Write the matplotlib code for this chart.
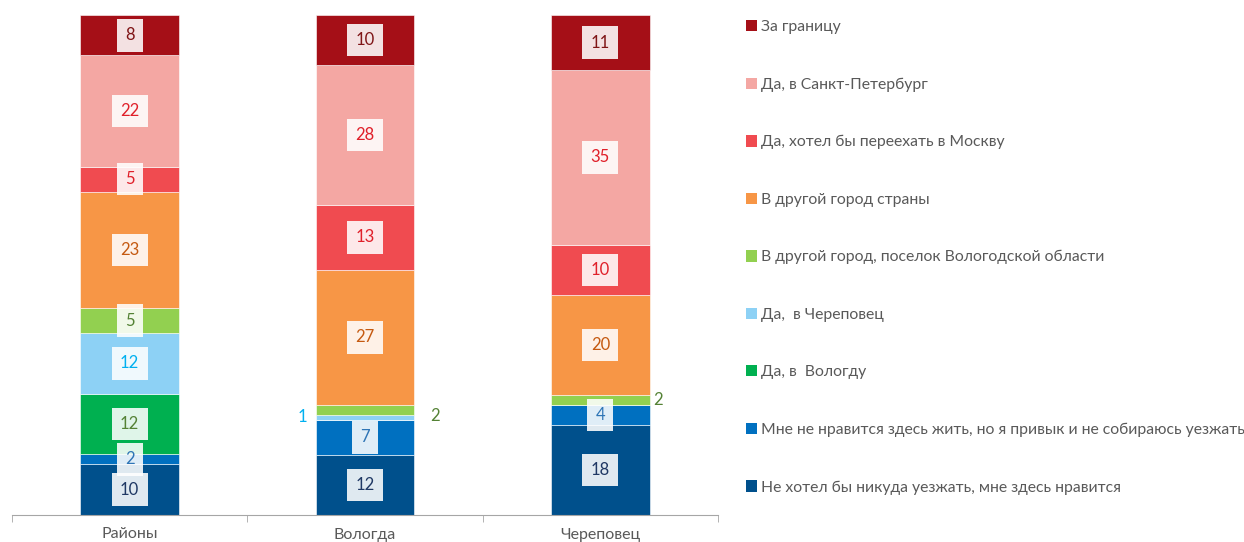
import numpy as np
import matplotlib
matplotlib.use("Agg")
import matplotlib.pyplot as plt
from matplotlib.patches import Patch

plt.rcParams['font.family'] = ['Lato', 'DejaVu Sans']

# данные: снизу вверх
categories = ['Районы', 'Вологда', 'Череповец']
series = [
    'Не хотел бы никуда уезжать, мне здесь нравится',
    'Мне не нравится здесь жить, но я привык и не собираюсь уезжать',
    'Да, в  Вологду',
    'Да,  в Череповец',
    'В другой город, поселок Вологодской области',
    'В другой город страны',
    'Да, хотел бы переехать в Москву',
    'Да, в Санкт-Петербург',
    'За границу',
]
values = [
    [10, 12, 18],
    [2, 7, 4],
    [12, 0, 0],
    [12, 1, 0],
    [5, 2, 2],
    [23, 27, 20],
    [5, 13, 10],
    [22, 28, 35],
    [8, 10, 11],
]
bar_colors = ['#00508C', '#0070C0', '#00B050', '#8DD1F5', '#92D050',
              '#F79646', '#F04B50', '#F4A7A3', '#A50F17']
text_colors = ['#1F3864', '#2E75B6', '#548235', '#00B0F0', '#548235',
               '#C55A11', '#E0202A', '#E0202A', '#7F1416']

# подписи маленьких значений сбоку от столбца: (ряд, категория) -> (dx, dy, ha)
outside = {(3, 1): (-0.245, 0.0, 'right'),
           (4, 1): (0.275, -1.2, 'left'),
           (4, 2): (0.225, 0.0, 'left')}

vals = np.array(values, dtype=float)
pct = vals / vals.sum(axis=0) * 100

fig = plt.figure(figsize=(12.44, 5.42), dpi=100)
ax = fig.add_axes([12 / 1244, 27 / 542, 706 / 1244, 500 / 542])

x = np.arange(len(categories))
bottom = np.zeros(len(categories))
for i, s in enumerate(series):
    ax.bar(x, pct[i], 0.42, bottom=bottom, color=bar_colors[i],
           edgecolor='white', linewidth=0.4, label=s)
    for j in range(len(categories)):
        v = values[i][j]
        if v == 0:
            continue
        yc = bottom[j] + pct[i][j] / 2
        if (i, j) in outside:
            dx, dy, ha = outside[(i, j)]
            ax.text(x[j] + dx, yc + dy, str(v), ha=ha, va='center',
                    color=text_colors[i], fontsize=12)
            continue
        ax.text(x[j], yc, str(v), ha='center', va='center', color=text_colors[i],
                fontsize=12,
                bbox=dict(boxstyle='square,pad=0.5', fc='white', ec='none', alpha=0.88))
    bottom += pct[i]

ax.set_xlim(-0.5, 2.5)
ax.set_ylim(0, 100)
for sp in ['top', 'right', 'left']:
    ax.spines[sp].set_visible(False)
ax.spines['bottom'].set_color('#A6A6A6')
ax.set_yticks([])
ax.set_xticks(x)
ax.set_xticklabels(categories, fontsize=11.5, color='#595959')
ax.tick_params(axis='x', which='major', length=0, pad=9)
ax.set_xticks([-0.5, 0.5, 1.5, 2.5], minor=True)
ax.tick_params(axis='x', which='minor', length=5, color='#A6A6A6')

handles = [Patch(facecolor=bar_colors[i]) for i in range(len(series))][::-1]
leg = fig.legend(handles, series[::-1], loc='upper left',
                 bbox_to_anchor=(746 / 1244, 1 - 20 / 542), frameon=False,
                 fontsize=11.3, labelcolor='#595959', handlelength=0.73,
                 handleheight=0.73, handletextpad=0.25, labelspacing=2.76,
                 borderaxespad=0, borderpad=0)

fig.savefig('out.png', dpi=100)
